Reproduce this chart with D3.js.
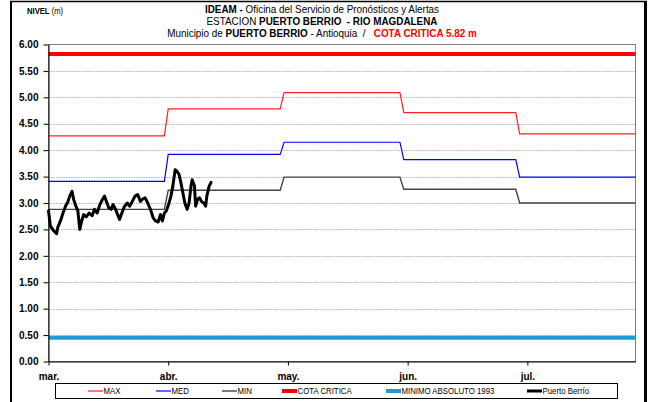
<!DOCTYPE html>
<html lang="es">
<head>
<meta charset="UTF-8">
<title>Puerto Berrio - Rio Magdalena</title>
<script src="https://d3js.org/d3.v7.min.js"></script>
<style>
  body { margin: 0; background: #fff; }
  svg text { font-family: "Liberation Sans", Arial, sans-serif; }
</style>
</head>
<body>
<div id="chart"></div>
<script>
// month ticks (days since 1 mar.), Excel puts them every 31 days
const tickDays = [0, 31, 62, 93, 124];
const tickLabels = ["mar.", "abr.", "may.", "jun.", "jul."];
const yTicks = [0, 0.5, 1, 1.5, 2, 2.5, 3, 3.5, 4, 4.5, 5, 5.5, 6];

// monthly reference levels (mar..jul), first day of each month
const monthStart = [0, 31, 61, 92, 122];
const lastDay = 152;
const maxLevel = [4.27, 4.78, 5.09, 4.71, 4.31];
const medLevel = [3.41, 3.92, 4.15, 3.82, 3.49];
const minLevel = [2.88, 3.24, 3.49, 3.26, 3.00];
const cotaCritica = 5.82;
const minimoAbsoluto = 0.45;

// Puerto Berrio observed level
const berrioDay = [0,0.5,1.4,2.1,2.4,3.1,3.8,4.4,5.0,5.5,6.1,6.5,7.1,7.6,8.1,8.6,9.1,9.8,10.5,11.3,
  11.9,12.6,13.3,14.0,14.5,15.0,15.6,16.2,16.7,17.3,17.9,18.4,19.0,19.7,20.4,21.0,21.7,22.4,23.1,23.8,
  24.3,25.0,25.7,26.4,27.1,27.7,28.4,29.0,29.5,30.0,30.5,31.1,31.7,32.2,32.8,33.3,33.8,34.3,34.8,35.3,
  35.9,36.4,36.9,37.2,37.8,38.1,38.6,39.1,39.6,40.2,40.7,41.0,41.6,42.1];
const berrioLevel = [2.85,2.56,2.47,2.42,2.54,2.66,2.82,2.94,3.02,3.13,3.22,3.07,2.94,2.85,2.50,2.66,2.78,2.74,2.81,2.76,
  2.88,2.81,2.97,3.07,3.13,3.03,2.91,2.88,2.97,2.89,2.78,2.69,2.81,2.94,3.00,2.94,3.03,3.13,3.16,3.03,
  3.07,3.10,3.00,2.88,2.72,2.66,2.64,2.78,2.66,2.81,2.85,2.97,3.13,3.32,3.63,3.60,3.54,3.38,3.19,3.00,
  2.88,3.00,3.32,3.44,3.32,2.94,3.07,3.10,3.03,3.00,2.94,3.13,3.32,3.39];

const W = 651, H = 402;
const svg = d3.select("#chart").append("svg").attr("width", W).attr("height", H);

// squeeze Arial-like text so it looks like Arial Narrow
function narrow(sel, k) {
  sel.each(function () {
    const len = this.getComputedTextLength();
    d3.select(this).attr("textLength", len * k).attr("lengthAdjust", "spacingAndGlyphs");
  });
}

// outer frame
svg.append("line").attr("x1", 11).attr("x2", 11).attr("y1", 1).attr("y2", H).attr("stroke", "#000").attr("stroke-width", 2);
svg.append("line").attr("x1", 10).attr("x2", 647).attr("y1", 1.5).attr("y2", 1.5).attr("stroke", "#000").attr("stroke-width", 1.5);
svg.append("line").attr("x1", 645.5).attr("x2", 645.5).attr("y1", 1).attr("y2", H).attr("stroke", "#000").attr("stroke-width", 3);

const x = d3.scaleLinear().domain([0, lastDay]).range([48.5, 635.5]);
const y = d3.scaleLinear().domain([0, 6]).range([361.5, 44.5]);

// grid
svg.append("g").selectAll("line").data(yTicks.filter(d => d > 0 && d < 6)).join("line")
  .attr("x1", x(0)).attr("x2", x(lastDay))
  .attr("y1", d => Math.round(y(d)) + 0.5).attr("y2", d => Math.round(y(d)) + 0.5)
  .attr("stroke", "#b4b4b4").attr("stroke-dasharray", "1.5,1");

// plot border
svg.append("rect").attr("x", x(0)).attr("y", y(6)).attr("width", x(lastDay) - x(0)).attr("height", y(0) - y(6))
  .attr("fill", "none").attr("stroke", "#808080");

// monthly steps: value holds from first to last day of month
function steps(vals) {
  const pts = [];
  vals.forEach((v, i) => {
    const end = i < vals.length - 1 ? monthStart[i + 1] - 1 : lastDay;
    pts.push([monthStart[i], v], [end, v]);
  });
  return pts;
}
const line = d3.line().x(d => x(d[0])).y(d => y(d[1]));

svg.append("path").attr("d", line([[0, cotaCritica], [lastDay, cotaCritica]]))
  .attr("stroke", "#ff0000").attr("stroke-width", 4).attr("fill", "none");
svg.append("path").attr("d", line([[0, minimoAbsoluto], [lastDay, minimoAbsoluto]]))
  .attr("stroke", "#1f9bd4").attr("stroke-width", 4).attr("fill", "none");
svg.append("path").attr("d", line(steps(maxLevel))).attr("stroke", "#ff2020").attr("stroke-width", 1.2).attr("fill", "none");
svg.append("path").attr("d", line(steps(medLevel))).attr("stroke", "#0000ff").attr("stroke-width", 1.2).attr("fill", "none");
svg.append("path").attr("d", line(steps(minLevel))).attr("stroke", "#444").attr("stroke-width", 1.4).attr("fill", "none");

svg.append("path").attr("d", line(berrioDay.map((d, i) => [d, berrioLevel[i]])))
  .attr("stroke", "#000").attr("stroke-width", 3).attr("fill", "none")
  .attr("stroke-linejoin", "round").attr("stroke-linecap", "round");

// axes
const yAxis = svg.append("g").attr("transform", `translate(${x(0)},0)`)
  .call(d3.axisLeft(y).tickValues(yTicks).tickFormat(d3.format(".2f")).tickSize(5).tickPadding(5).tickSizeOuter(0));
yAxis.selectAll("text").attr("font-size", 10).attr("font-weight", "bold").attr("fill", "#000")
  .style("font-family", '"Liberation Sans", Arial, sans-serif');
yAxis.selectAll("line, path").attr("stroke", "#000");

const xAxis = svg.append("g").attr("transform", `translate(0,${y(0)})`)
  .call(d3.axisBottom(x).tickValues(tickDays).tickFormat((d, i) => tickLabels[i]).tickSize(4).tickPadding(7).tickSizeOuter(0));
xAxis.selectAll("text").attr("font-size", 10).attr("font-weight", "bold").attr("fill", "#000")
  .style("font-family", '"Liberation Sans", Arial, sans-serif');
xAxis.selectAll("line, path").attr("stroke", "#000");

// titles, squeezed horizontally like Arial Narrow
const nb = "\u00a0";
const t = svg.append("g").attr("transform", "translate(322,0) scale(0.9,1)")
  .attr("font-size", 11).attr("text-anchor", "middle");
const l1 = t.append("text").attr("x", 0).attr("y", 13.5);
l1.append("tspan").attr("font-weight", "bold").text("IDEAM - ");
l1.append("tspan").text("Oficina del Servicio de Pronósticos y Alertas");
const l2 = t.append("text").attr("x", 0).attr("y", 25.5);
l2.append("tspan").text("ESTACION ");
l2.append("tspan").attr("font-weight", "bold").text("PUERTO BERRIO" + nb + nb + "- RIO MAGDALENA");
const l3 = t.append("text").attr("x", 0).attr("y", 37.5);
l3.append("tspan").text("Municipio de ");
l3.append("tspan").attr("font-weight", "bold").text("PUERTO BERRIO");
l3.append("tspan").text(" - Antioquia" + nb + nb + "/" + nb + nb + nb);
l3.append("tspan").attr("font-weight", "bold").attr("fill", "#ff0000").text("COTA CRITICA 5.82 m");

const nv = svg.append("g").attr("transform", "translate(27,14) scale(0.85,1)")
  .append("text").attr("font-size", 9);
nv.append("tspan").attr("font-weight", "bold").text("NIVEL");
nv.append("tspan").text(" (m)");

// legend
const legendNames = ["MAX", "MED", "MIN", "COTA CRITICA", "MINIMO ABSOLUTO 1993", "Puerto Berrío"];
const legendColors = ["#ff2020", "#0000ff", "#444", "#ff0000", "#1f9bd4", "#000"];
const legendWidths = [1.2, 1.2, 1.4, 4, 4, 3];
const legendX = [88, 156, 222, 282, 386, 527];

svg.append("rect").attr("x", 55.5).attr("y", 383.5).attr("width", 562).attr("height", 15)
  .attr("fill", "#fff").attr("stroke", "#000");
const items = svg.append("g").selectAll("g").data(legendNames).join("g")
  .attr("transform", (d, i) => `translate(${legendX[i]},391)`);
items.append("line").attr("x1", 0).attr("x2", 15).attr("stroke", (d, i) => legendColors[i])
  .attr("stroke-width", (d, i) => legendWidths[i]);
items.append("text").attr("x", 15.5).attr("y", 3).attr("font-size", 8.5).text(d => d);
narrow(items.selectAll("text"), 0.92);
</script>
</body>
</html>
